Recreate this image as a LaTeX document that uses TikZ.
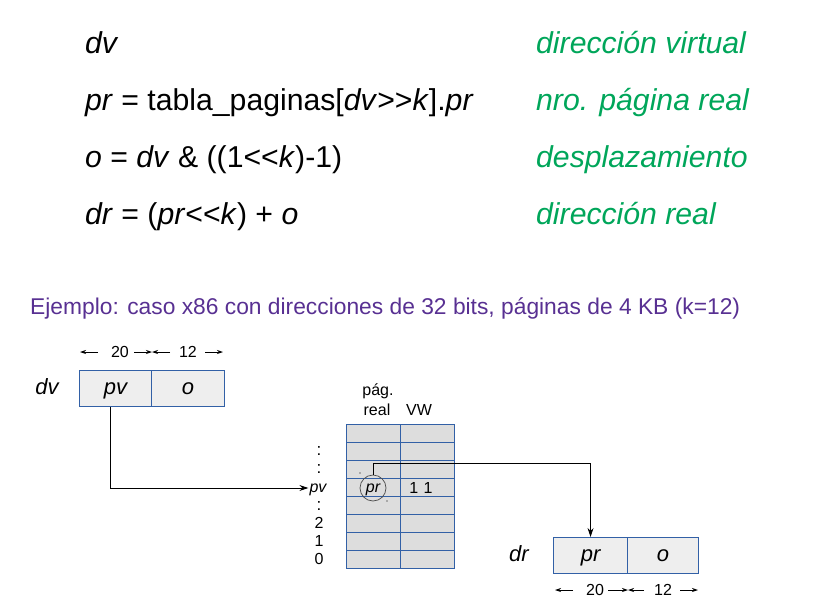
\documentclass[tikz,border=0pt]{standalone}
\usepackage{fontspec}
\setmainfont{Liberation Sans}
\usetikzlibrary{arrows.meta}
\definecolor{grn}{RGB}{0,166,90}
\definecolor{purp}{RGB}{88,48,146}
\definecolor{bblue}{RGB}{50,96,166}
\definecolor{cellgray}{RGB}{238,238,238}
\definecolor{tabgray}{RGB}{221,221,221}
\newcommand{\fs}[1]{\fontsize{#1}{#1}\selectfont}
\begin{document}
\begin{tikzpicture}[x=1pt,y=-1pt,
  formula/.style={anchor=base west,inner sep=0pt,font=\fs{30.2}},
  meaning/.style={anchor=base west,inner sep=0pt,font=\fs{30.2}\itshape,text=grn},
  cell/.style={draw=bblue,line width=1.1pt,fill=cellgray,minimum height=36pt,inner sep=0pt,anchor=north west,font=\fs{22}\itshape,text height=11pt,text depth=0pt},
  tcell/.style={draw=bblue,line width=1pt,fill=tabgray,minimum height=18pt,inner sep=0pt,anchor=north west},
  lab/.style={inner sep=0pt,font=\fs{16}},
  dimtxt/.style={inner sep=0pt,font=\fs{16}},
  arr/.style={-{Stealth[length=9pt,width=6pt]},line width=0.9pt},
  dimarr/.style={-{Stealth[length=6pt,width=4pt]},line width=0.8pt}]
\useasboundingbox (0,0) rectangle (815,614);

% formulas
\node[formula] (f1) at (85,53) {\textit{dv}};
\node[formula] (f2) at (85,110) {\textit{pr} = tabla\_paginas[\textit{dv}>{}>\textit{k}].\textit{pr}};
\node[formula] (f3) at (85,167) {\textit{o} = \textit{dv} \& ((1<{}<\textit{k})-1)};
\node[formula] (f4) at (85,224) {\textit{dr} = (\textit{pr}<{}<\textit{k}) + \textit{o}};
\node[meaning] (m1) at (536,53) {dirección virtual};
\node[meaning] (m2) at (536,110) {nro. página real};
\node[meaning] (m3) at (536,167) {desplazamiento};
\node[meaning] (m4) at (536,224) {dirección real};

\node[anchor=base west,inner sep=0pt,font=\fs{22.8},text=purp] (ej) at (30,314)
  {Ejemplo: caso x86 con direcciones de 32 bits, páginas de 4 KB (k=12)};

% virtual address
\node[inner sep=0pt,font=\fs{22}\itshape] (dvlab) at (47,387) {dv};
\node[cell,minimum width=72pt] (pv) at (79,370) {pv};
\node[cell,minimum width=73pt] (o1) at (151,370) {o};

\node[dimtxt] (d20a) at (120,352) {20};
\node[dimtxt] (d12a) at (188,352) {12};
\coordinate (a1) at (98,352); \coordinate (a2) at (80,352);
\coordinate (a3) at (134,352); \coordinate (a4) at (152,352);
\coordinate (a5) at (170,352); \coordinate (a6) at (205,352);
\coordinate (a7) at (223,352);
\draw[dimarr] (a1) -- (a2);
\draw[dimarr] (a3) -- (a4);
\draw[dimarr] (a5) -- (a4);
\draw[dimarr] (a6) -- (a7);

% page table
\foreach \r in {0,...,7}{
  \node[tcell,minimum width=54pt] (c1r\r) at (346,{424+18*\r}) {};
  \node[tcell,minimum width=54pt] (c2r\r) at (400,{424+18*\r}) {};
}
\node[lab] (hpag) at (378,391) {pág.};
\node[lab] (hreal) at (377,410) {real};
\node[lab] (hvw) at (419,410) {VW};

\node[lab,font=\fs{17}] (dots1) at (319,451) {:};
\node[lab,font=\fs{17}] (dots2) at (319,469) {:};
\node[inner sep=1pt,font=\fs{16}\itshape,text height=8pt,text depth=0pt] (pvlab) at (318,488) {pv};
\node[lab,font=\fs{17}] (dots3) at (319,506) {:};
\node[lab] (n2) at (319,523) {2};
\node[lab] (n1) at (319,541) {1};
\node[lab] (n0) at (319,559) {0};

\node[circle,draw=black!70,line width=0.7pt,minimum size=26pt,inner sep=0pt,font=\fs{16}\itshape,text height=8pt,text depth=0pt] (prc) at (373,488) {pr};
\fill (360,473) circle (0.7pt);
\fill (387,501) circle (0.7pt);
\node[lab] (vw11) at (421,488) {1\,\,1};

% real address
\node[inner sep=0pt,font=\fs{22}\itshape] (drlab) at (519,554) {dr};
\node[cell,minimum width=74pt] (prcell) at (553,537) {pr};
\node[cell,minimum width=71pt] (o2) at (627,537) {o};

\node[dimtxt] (d20b) at (595,590) {20};
\node[dimtxt] (d12b) at (663,590) {12};
\coordinate (b1) at (573,590); \coordinate (b2) at (555,590);
\coordinate (b3) at (608,590); \coordinate (b4) at (628,590);
\coordinate (b5) at (644,590); \coordinate (b6) at (680,590);
\coordinate (b7) at (698,590);
\draw[dimarr] (b1) -- (b2);
\draw[dimarr] (b3) -- (b4);
\draw[dimarr] (b5) -- (b4);
\draw[dimarr] (b6) -- (b7);

% connectors
\draw[arr] ([xshift=-5pt]pv.south) |- (pvlab.west);
\draw[arr] (prc.north) -- ++(0,-11) -| (prcell.north);
\end{tikzpicture}
\end{document}
